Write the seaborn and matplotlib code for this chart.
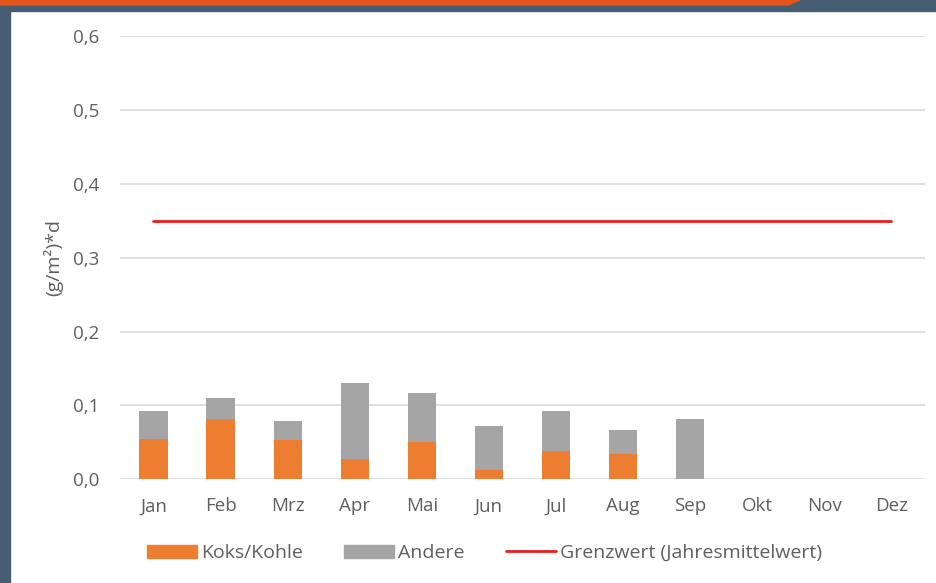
import numpy as np
import pandas as pd
import seaborn as sns
import matplotlib.pyplot as plt
from matplotlib.patches import Rectangle, Polygon, Patch
from matplotlib.lines import Line2D

# monthly values, (g/m²)*d
months = ['Jan', 'Feb', 'Mrz', 'Apr', 'Mai', 'Jun', 'Jul', 'Aug', 'Sep', 'Okt', 'Nov', 'Dez']
koks = [0.055, 0.081, 0.053, 0.028, 0.050, 0.012, 0.038, 0.034, 0.0, np.nan, np.nan, np.nan]
andere = [0.037, 0.029, 0.026, 0.102, 0.067, 0.060, 0.054, 0.032, 0.081, np.nan, np.nan, np.nan]
grenzwert = [0.35, 0.35, 0.35, 0.35, 0.35, 0.35, 0.35, 0.35, 0.35, 0.35, 0.35, 0.35]
yticks = [0.0, 0.1, 0.2, 0.3, 0.4, 0.5, 0.6]

data = pd.DataFrame({'month': months, 'koks': koks, 'andere': andere, 'grenz': grenzwert})
data['total'] = data['koks'] + data['andere']

c_orange = '#ED7D31'
c_gray = '#A5A5A5'
c_red = '#EE1C1C'
c_text = '#5F5F5F'
c_grid = '#D9D9D9'

sns.set_style('white')
plt.rcParams['font.family'] = ['Open Sans', 'DejaVu Sans']

fig = plt.figure(figsize=(9.37, 5.83), dpi=100)
ax = fig.add_axes([0.128, 0.178, 0.859, 0.760])

# frame decoration around the slide
slate = '#465D72'
fig.patches.append(Rectangle((0, 0), 10 / 937, 1, transform=fig.transFigure, color=slate, zorder=0))
fig.patches.append(Rectangle((0, 1 - 11 / 583), 1, 11 / 583, transform=fig.transFigure, color=slate, zorder=0))
fig.patches.append(Polygon([(0, 1), (800 / 937, 1), (788 / 937, 1 - 5 / 583), (0, 1 - 5 / 583)],
                           closed=True, transform=fig.transFigure, color='#E5541A', zorder=1))

# stacked bars: total in gray, coke/coal on top of it from zero
sns.barplot(data=data, x='month', y='total', order=months, color=c_gray, width=0.42,
            saturation=1, linewidth=0, ax=ax, zorder=2)
sns.barplot(data=data, x='month', y='koks', order=months, color=c_orange, width=0.42,
            saturation=1, linewidth=0, ax=ax, zorder=3)
sns.lineplot(data=data, x='month', y='grenz', color=c_red, lw=2, ax=ax, zorder=4)

ax.set_xlim(-0.5, 11.5)
ax.set_ylim(0, 0.6)
ax.set_yticks(yticks)
ax.set_yticklabels([f'{v:.1f}'.replace('.', ',') for v in yticks])
ax.yaxis.grid(True, color=c_grid, lw=1.2, zorder=0)
ax.set_axisbelow(True)
for s in ax.spines.values():
    s.set_visible(False)
ax.tick_params(axis='both', length=0, labelsize=13.5, labelcolor=c_text)
ax.tick_params(axis='x', pad=13)
ax.tick_params(axis='y', pad=15)
ax.set_xlabel('')
ax.set_ylabel('(g/m²)*d', fontsize=14, color=c_text, labelpad=7)

handles = [Patch(color=c_orange), Patch(color=c_gray), Line2D([], [], color=c_red, lw=2)]
labels = ['Koks/Kohle', 'Andere', 'Grenzwert (Jahresmittelwert)']
fig.legend(handles, labels, loc='center', bbox_to_anchor=(0.517, 0.051), ncol=3, frameon=False,
           fontsize=14, labelcolor=c_text, handlelength=2.6, handleheight=0.7,
           handletextpad=0.2, columnspacing=2.1)

plt.savefig('out.png', dpi=100)
